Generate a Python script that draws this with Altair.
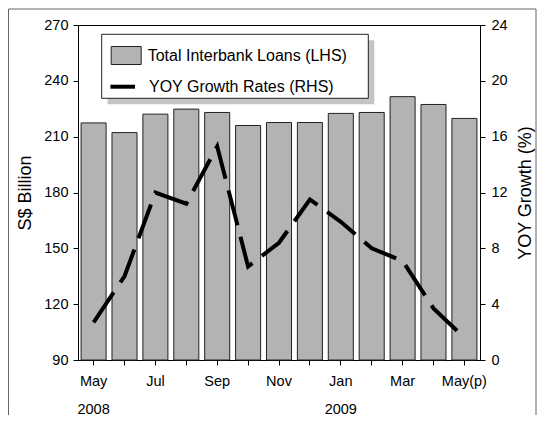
import altair as alt
import pandas as pd

# ---- data ----
months = ["May", "Jun", "Jul", "Aug", "Sep", "Oct", "Nov", "Dec",
          "Jan", "Feb", "Mar", "Apr", "May(p)"]
loans = [217.4, 212.2, 222.1, 224.8, 223.0, 216.0, 217.6, 217.6,
         222.5, 223.0, 231.5, 227.3, 219.8]
growth = [2.7, 6.0, 12.0, 11.2, 15.3, 6.7, 8.4, 11.5,
          9.9, 8.0, 7.1, 3.7, 1.6]
left_ticks = [90, 120, 150, 180, 210, 240, 270]
right_ticks = [0, 4, 8, 12, 16, 20, 24]
bar_name = "Total Interbank Loans (LHS)"
line_name = "YOY Growth Rates (RHS)"

df = pd.DataFrame({
    "month": months,
    "loans": loans,
    "growth": growth,
    "bar_series": [bar_name] * len(months),
})

FONT = "Liberation Sans"

label_expr = (
    "datum.value == 'May' ? ['May', '2008'] : "
    "datum.value == 'Jan' ? ['Jan', '2009'] : "
    "indexof(['Jul', 'Sep', 'Nov', 'Mar', 'May(p)'], datum.value) >= 0 ? datum.value : ''"
)

x_enc = alt.X(
    "month:N", sort=months,
    scale=alt.Scale(paddingInner=0.19, paddingOuter=0.1),
    axis=alt.Axis(title=None, labelExpr=label_expr, labelAngle=0,
                  labelLineHeight=28, labelPadding=9, tickSize=5,
                  labelOverlap=False),
)

bars = alt.Chart(df).mark_bar(stroke="#222222", strokeWidth=1).encode(
    x=x_enc,
    y=alt.Y("loans:Q",
            scale=alt.Scale(domain=[90, 270], zero=False, nice=False),
            axis=alt.Axis(values=left_ticks, title="S$ Billion", tickSize=5,
                          labelPadding=5, titlePadding=9)),
    y2=alt.datum(90),
    fill=alt.Fill("bar_series:N", scale=alt.Scale(range=["#b3b3b3"]),
                  legend=alt.Legend(title=None, orient="none", legendX=32.7, legendY=15,
                                    symbolType="M-1,-0.6H1V0.6H-1Z", symbolSize=900,
                                    symbolStrokeColor="#222222", symbolStrokeWidth=1,
                                    labelFontSize=16, labelFont=FONT, labelColor="black",
                                    labelOffset=6, labelLimit=0, padding=0)),
)

line = alt.Chart(df).mark_line(strokeWidth=4, strokeDash=[36, 12], stroke="black").encode(
    x=x_enc,
    y=alt.Y("growth:Q",
            scale=alt.Scale(domain=[0, 24], nice=False),
            axis=alt.Axis(orient="right", values=right_ticks, title="YOY Growth (%)",
                          tickSize=5, labelPadding=6, titlePadding=9,
                          titleAngle=270, titleBaseline="top")),
)

# legend box decoration (shadow + white box) and the key for the growth line
deco = alt.Data(values=[{"k": 1}])
frame = alt.Chart(deco).mark_rect(fillOpacity=0, stroke="#666666", strokeWidth=1).encode(
    x=alt.value(-69.5), x2=alt.value(458), y=alt.value(-16), y2=alt.value(440))
shadow = alt.Chart(deco).mark_rect(fill="#c4c4c4").encode(
    x=alt.value(29.7), x2=alt.value(296.3), y=alt.value(15.3), y2=alt.value(79.3))
box = alt.Chart(deco).mark_rect(fill="white", stroke="#222222", strokeWidth=1).encode(
    x=alt.value(23.7), x2=alt.value(290.3), y=alt.value(9.3), y2=alt.value(73.3))
key_line = alt.Chart(deco).mark_rule(strokeWidth=4, color="black").encode(
    x=alt.value(32.4), x2=alt.value(57), y=alt.value(61.7))
key_text = alt.Chart(deco).mark_text(
    align="left", baseline="middle", font=FONT, fontSize=16, color="black").encode(
    x=alt.value(71), y=alt.value(62), text=alt.value(line_name))

chart = alt.layer(frame, bars, line, shadow, box, key_line, key_text).resolve_scale(
    y="independent"
).properties(
    width=402, height=335,
    autosize=alt.AutoSizeParams(type="none"),
    padding={"left": 70, "top": 17, "right": 57, "bottom": 55},
).configure_view(
    stroke="black", strokeWidth=1
).configure_axis(
    domainColor="black", tickColor="black", labelColor="black", titleColor="black",
    labelFont=FONT, titleFont=FONT, titleFontWeight="normal",
    labelFontSize=14.5, titleFontSize=18, grid=False,
)

chart.save("out.html", embed_options={"renderer": "svg", "actions": False})
